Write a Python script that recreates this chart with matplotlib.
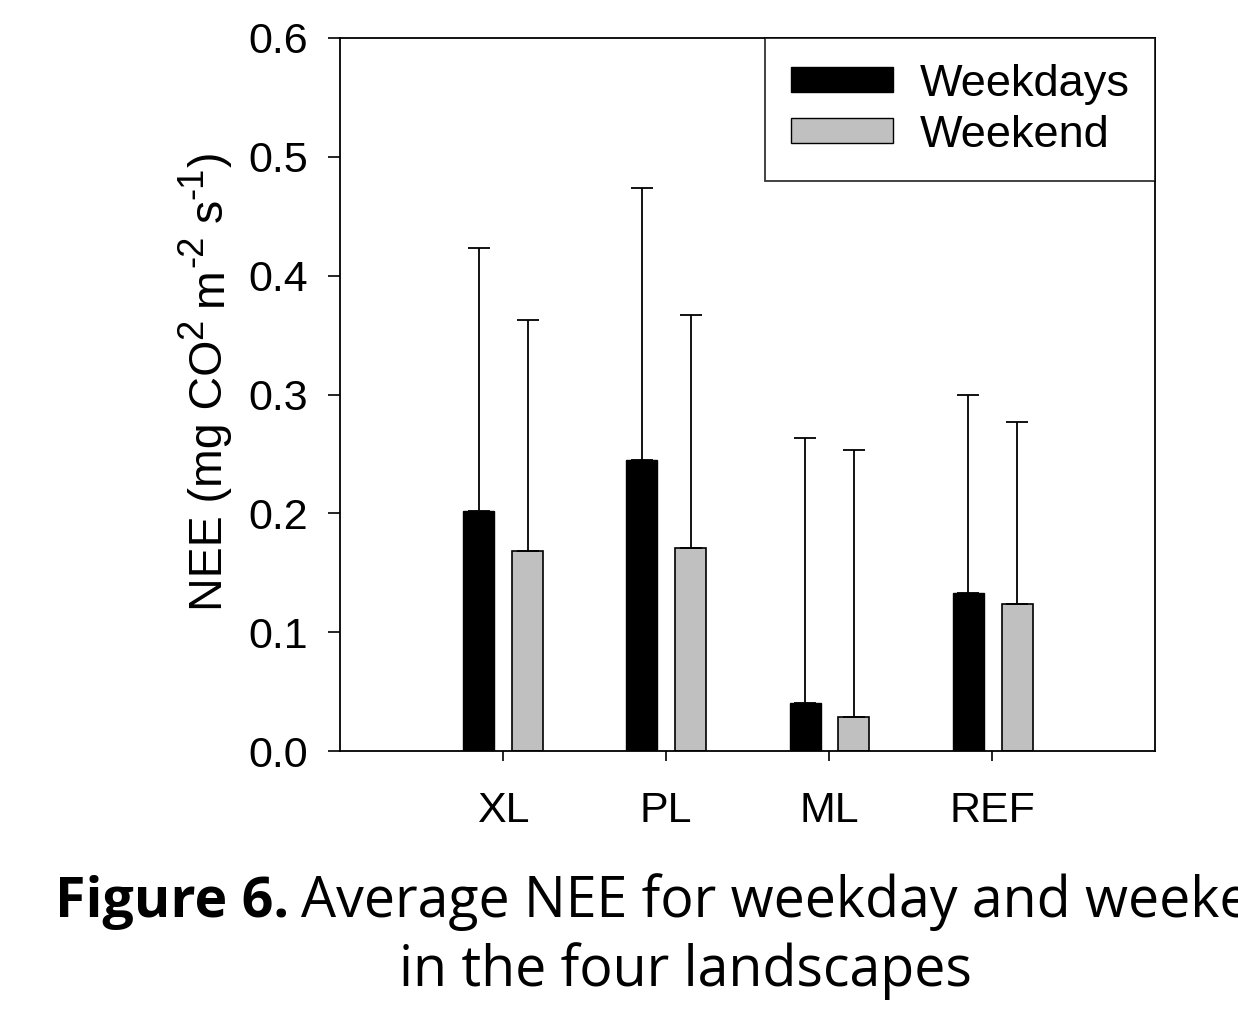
import matplotlib
matplotlib.use("Agg")
import matplotlib.pyplot as plt
import matplotlib.patches as mpatches
import matplotlib.transforms as mtransforms
import numpy as np

plt.rcParams['font.family'] = ['Liberation Sans', 'DejaVu Sans']

# Mean NEE and upper standard deviation per landscape
landscapes = ['XL', 'PL', 'ML', 'REF']
weekday_mean = [0.202, 0.245, 0.040, 0.133]
weekday_err = [0.221, 0.229, 0.223, 0.167]
weekend_mean = [0.168, 0.171, 0.029, 0.124]
weekend_err = [0.195, 0.196, 0.224, 0.153]
series_labels = ['Weekdays', 'Weekend']

# y label split into (text, is_superscript) runs
ylabel_runs = [('NEE (mg CO', False), ('2', True), (' m', False), ('-2', True),
               (' s', False), ('-1', True), (')', False)]

fig = plt.figure(figsize=(12.38, 10.10), dpi=100)
ax = fig.add_axes([0.2746, 0.2564, 0.6586, 0.7060])

x = np.arange(1, len(landscapes) + 1)
bar_width = 0.19
err_style = dict(ecolor='black', elinewidth=1.3, capsize=8, capthick=1.3)

ax.bar(x - 0.148, weekday_mean, width=bar_width, color='black', edgecolor='black',
       linewidth=1.0, yerr=[np.zeros(len(x)), weekday_err], error_kw=err_style)
ax.bar(x + 0.152, weekend_mean, width=bar_width, color='#c0c0c0', edgecolor='black',
       linewidth=1.2, yerr=[np.zeros(len(x)), weekend_err], error_kw=err_style)

ax.set_xlim(0, 5)
ax.set_ylim(0, 0.6)
ax.set_xticks(x)
ax.set_xticklabels(landscapes)
ax.set_yticks(np.arange(0, 0.61, 0.1))
ax.set_yticklabels([f"{v:.1f}" for v in np.arange(0, 0.61, 0.1)])
ax.tick_params(axis='y', direction='out', length=9, width=1.2, pad=14, labelsize=31)
ax.tick_params(axis='x', direction='out', length=7.5, width=1.2, pad=21, labelsize=31)
for spine in ax.spines.values():
    spine.set_linewidth(1.3)

handles = [mpatches.Patch(facecolor='black', edgecolor='black', label=series_labels[0]),
           mpatches.Patch(facecolor='#c0c0c0', edgecolor='black', label=series_labels[1])]
leg = ax.legend(handles=handles, loc='upper right', fontsize=32.5, frameon=True,
                fancybox=False, borderaxespad=0.0, handlelength=2.27, handleheight=0.45,
                handletextpad=0.58, borderpad=0.57, labelspacing=0.22)
leg.get_frame().set_edgecolor('black')
leg.get_frame().set_linewidth(1.3)

fig.canvas.draw()
renderer = fig.canvas.get_renderer()
pix = mtransforms.IdentityTransform()

# Rotated y label built run by run so the superscripts can be larger
label_size = 33.5
sup_size = label_size * 0.78
px_per_pt = fig.dpi / 72.0
base_x = 222
sup_shift = 0.42 * label_size * px_per_pt
pieces = []
pos = 0.0
for run, is_sup in ylabel_runs:
    text = run.lstrip()
    size = sup_size if is_sup else label_size
    if run != text:
        pos += 0.278 * label_size * px_per_pt
    t = fig.text(base_x - (sup_shift if is_sup else 0), 0, text, fontsize=size,
                 rotation=90, rotation_mode='anchor', ha='left', va='baseline',
                 transform=pix)
    pieces.append((t, pos))
    pos += t.get_window_extent(renderer=renderer).height
center_y = fig.bbox.height - 381
for t, offset in pieces:
    t.set_y(center_y - pos / 2 + offset)

# Caption under the chart: bold figure number followed by regular text
cap_font = ['Open Sans', 'DejaVu Sans']
head = fig.text(0.0444, 0.092, 'Figure 6.', fontsize=40, fontweight='bold',
                family=cap_font, ha='left', va='baseline')
head_box = head.get_window_extent(renderer=renderer)
space_px = 12
fig.text((head_box.x1 + space_px) / fig.bbox.width, 0.092,
         'Average NEE for weekday and weekend', fontsize=40,
         family=cap_font, ha='left', va='baseline')
fig.text(0.554, 0.0235, 'in the four landscapes', fontsize=40,
         family=cap_font, ha='center', va='baseline')

fig.savefig('out.png', dpi=100)
